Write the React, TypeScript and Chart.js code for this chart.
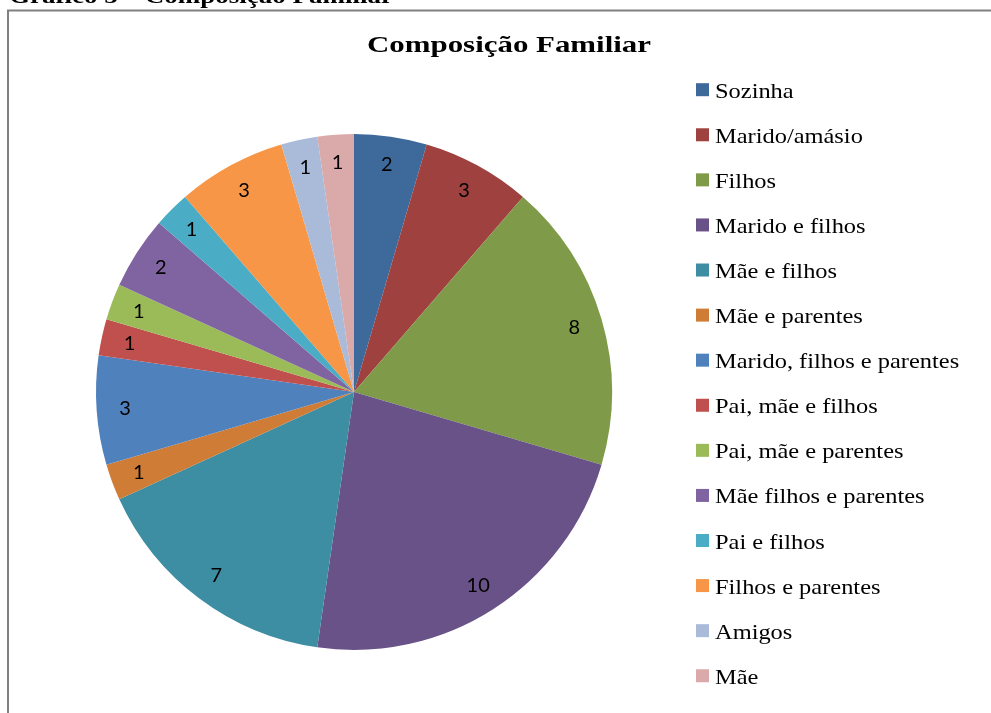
import React, { useEffect, useRef } from "react";
import { Chart, registerables } from "chart.js";

Chart.register(...registerables);

const categories = [
  "Sozinha",
  "Marido/amásio",
  "Filhos",
  "Marido e filhos",
  "Mãe e filhos",
  "Mãe e parentes",
  "Marido, filhos e parentes",
  "Pai, mãe e filhos",
  "Pai, mãe e parentes",
  "Mãe filhos e parentes",
  "Pai e filhos",
  "Filhos e parentes",
  "Amigos",
  "Mãe",
];

const counts = [2, 3, 8, 10, 7, 1, 3, 1, 1, 2, 1, 3, 1, 1];

const sliceColors = [
  "#3E6A9B",
  "#9E413F",
  "#7F9A48",
  "#695287",
  "#3D8DA3",
  "#CF7C37",
  "#4F81BD",
  "#C0504D",
  "#9BBB59",
  "#8064A2",
  "#4BACC6",
  "#F79646",
  "#AABBD9",
  "#D9AAA9",
];

const chartTitle = "Composição Familiar";
const pageHeading = "Gráfico 5 – Composição Familiar";

function drawStretched(
  ctx: CanvasRenderingContext2D,
  text: string,
  x: number,
  y: number,
  sx: number,
  align: "left" | "center"
) {
  ctx.save();
  ctx.translate(x, y);
  ctx.scale(sx, 1);
  ctx.textAlign = align;
  ctx.fillText(text, 0, 0);
  ctx.restore();
}

const decorPlugin = {
  id: "decor",
  afterDraw(chart: any) {
    const ctx = chart.ctx as CanvasRenderingContext2D;
    ctx.save();
    ctx.fillStyle = "#000";
    ctx.textBaseline = "alphabetic";

    // page heading (cut off at the top)
    ctx.font = "bold 22px 'Liberation Serif', serif";
    const hw = ctx.measureText(pageHeading).width;
    drawStretched(ctx, pageHeading, 9, 3, 384 / hw, "left");

    // frame
    ctx.strokeStyle = "#808080";
    ctx.lineWidth = 2;
    ctx.beginPath();
    ctx.moveTo(8, 713);
    ctx.lineTo(8, 10.5);
    ctx.lineTo(991, 10.5);
    ctx.stroke();

    // title
    ctx.font = "bold 24px 'Liberation Serif', serif";
    const tw = ctx.measureText(chartTitle).width;
    drawStretched(ctx, chartTitle, 509, 52, 284 / tw, "center");

    // legend
    const labels = chart.data.labels as string[];
    const colors = chart.data.datasets[0].backgroundColor as string[];
    ctx.font = "22px 'Liberation Serif', serif";
    labels.forEach((lab, i) => {
      const base = 97.7 + i * 45.08;
      ctx.fillStyle = colors[i];
      ctx.fillRect(696, base - 14.5, 13, 13);
      ctx.fillStyle = "#000";
      drawStretched(ctx, lab, 715, base, 1.11, "left");
    });

    // data labels
    const meta = chart.getDatasetMeta(0);
    ctx.font = "20px Lato, 'Open Sans', sans-serif";
    ctx.textAlign = "center";
    ctx.textBaseline = "middle";
    ctx.fillStyle = "#000";
    meta.data.forEach((arc: any, i: number) => {
      const p = arc.getProps(["x", "y", "startAngle", "endAngle", "outerRadius"], true);
      const mid = (p.startAngle + p.endAngle) / 2;
      const d = p.outerRadius * 0.89;
      ctx.fillText(
        String(chart.data.datasets[0].data[i]),
        p.x + Math.cos(mid) * d,
        p.y + Math.sin(mid) * d
      );
    });

    ctx.restore();
  },
};

export default function App() {
  const ref = useRef<HTMLCanvasElement>(null);
  useEffect(() => {
    if (!ref.current) return;
    const chart = new Chart(ref.current, {
      type: "pie",
      data: {
        labels: categories,
        datasets: [
          {
            data: counts,
            backgroundColor: sliceColors,
            borderWidth: 0,
          },
        ],
      },
      options: {
        animation: false,
        responsive: false,
        maintainAspectRatio: false,
        layout: { padding: { left: 96, right: 379, top: 134, bottom: 63 } },
        plugins: {
          legend: { display: false },
          title: { display: false },
          tooltip: { enabled: false },
        },
      },
      plugins: [decorPlugin],
    });
    return () => chart.destroy();
  }, []);
  return (
    <div style={{ position: "fixed", left: 0, top: 0, width: 991, height: 713, background: "#fff" }}>
      <canvas ref={ref} width={991} height={713} style={{ width: 991, height: 713, display: "block" }} />
    </div>
  );
}
